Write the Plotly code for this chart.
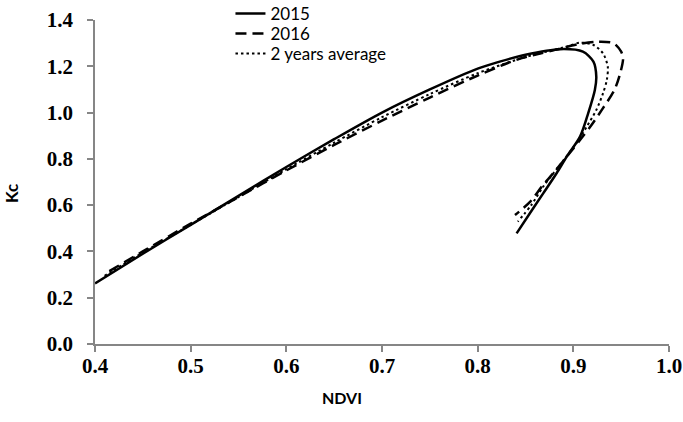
import plotly.graph_objects as go

# 2015 (solid)
ndvi_2015 = [0.400, 0.450, 0.500, 0.550, 0.600, 0.650, 0.700, 0.750, 0.800, 0.823, 0.850,
             0.886, 0.910, 0.921, 0.924, 0.9225, 0.9155, 0.907, 0.893, 0.8825, 0.8685, 0.8546, 0.8407]
kc_2015 = [0.262, 0.390, 0.515, 0.640, 0.765, 0.885, 1.000, 1.100, 1.190, 1.220, 1.250,
           1.274, 1.263, 1.220, 1.155, 1.098, 0.997, 0.896, 0.809, 0.738, 0.651, 0.565, 0.478]

# 2016 (dashed)
ndvi_2016 = [0.415, 0.450, 0.500, 0.550, 0.600, 0.650, 0.700, 0.750, 0.800, 0.842, 0.863,
             0.881, 0.907, 0.924, 0.942, 0.950, 0.952, 0.949, 0.943, 0.931, 0.919, 0.907,
             0.896, 0.879, 0.867, 0.855, 0.839]
kc_2016 = [0.315, 0.400, 0.520, 0.635, 0.750, 0.860, 0.965, 1.065, 1.160, 1.230, 1.253,
           1.271, 1.297, 1.306, 1.300, 1.263, 1.235, 1.170, 1.098, 1.019, 0.946, 0.882,
           0.824, 0.738, 0.680, 0.615, 0.557]

# 2 years average (dotted)
ndvi_avg = [0.410, 0.450, 0.500, 0.550, 0.600, 0.650, 0.700, 0.750, 0.800, 0.850, 0.893,
            0.907, 0.921, 0.931, 0.936, 0.935, 0.931, 0.924, 0.914, 0.903, 0.889, 0.8685,
            0.856, 0.842]
kc_avg = [0.295, 0.395, 0.515, 0.635, 0.755, 0.870, 0.980, 1.080, 1.170, 1.240, 1.285,
          1.302, 1.292, 1.256, 1.198, 1.141, 1.083, 1.011, 0.939, 0.867, 0.790, 0.680,
          0.600, 0.529]

series_names = ["2015", "2016", "2 years average"]
x_ticks = [0.4, 0.5, 0.6, 0.7, 0.8, 0.9, 1.0]
y_ticks = [0.0, 0.2, 0.4, 0.6, 0.8, 1.0, 1.2, 1.4]

fig = go.Figure()
fig.add_trace(go.Scatter(x=ndvi_2015, y=kc_2015, mode="lines", name=series_names[0], legend="legend",
                         line=dict(color="black", width=2.5, shape="spline", smoothing=0.8)))
fig.add_trace(go.Scatter(x=ndvi_2016, y=kc_2016, mode="lines", name=series_names[1], legend="legend2",
                         line=dict(color="black", width=2.5, dash="11px,6px", shape="spline", smoothing=0.8)))
fig.add_trace(go.Scatter(x=ndvi_avg, y=kc_avg, mode="lines", name=series_names[2], legend="legend3",
                         line=dict(color="black", width=2, dash="2.5px,3px", shape="spline", smoothing=0.8)))

axis_color = "#868686"
tickfont = dict(family="Liberation Serif", size=21, color="black", weight="bold")
legfont = dict(family="Lato", size=17, color="black")

def leg(ypx):
    # ypx: pixel row of the legend entry top in the figure
    return dict(x=0.236, y=1 + (20 - ypx) / 324, xanchor="left", yanchor="top",
                font=legfont, bgcolor="rgba(0,0,0,0)", borderwidth=0, itemwidth=30)

fig.update_layout(
    width=683, height=422,
    margin=dict(l=95, r=14, t=20, b=78, autoexpand=False),
    paper_bgcolor="white", plot_bgcolor="white",
    showlegend=True,
    legend=leg(-4), legend2=leg(16), legend3=leg(36),
    xaxis=dict(range=[0.4, 1.0], tickvals=x_ticks, tickformat=".1f",
               showgrid=False, zeroline=False, showline=True, linecolor=axis_color, linewidth=1.5,
               ticks="outside", ticklen=6, tickcolor=axis_color, tickwidth=1.5,
               tickfont=tickfont, ticklabelstandoff=-4),
    yaxis=dict(range=[0.0, 1.4], tickvals=y_ticks, tickformat=".1f",
               showgrid=False, zeroline=False, showline=True, linecolor=axis_color, linewidth=1.5,
               ticks="outside", ticklen=6, tickcolor=axis_color, tickwidth=1.5,
               tickfont=tickfont, ticklabelstandoff=10),
    annotations=[
        dict(text="NDVI", xref="paper", yref="paper", x=0.43, y=-0.165, xanchor="center", yanchor="middle",
             showarrow=False, font=dict(family="Lato", size=16, color="black", weight="bold")),
        dict(text="Kc", xref="paper", yref="paper", x=-0.145, y=0.465, xanchor="center", yanchor="middle",
             textangle=-90, showarrow=False, font=dict(family="Lato", size=17, color="black", weight="bold")),
    ],
)

fig.write_html("out.html")
